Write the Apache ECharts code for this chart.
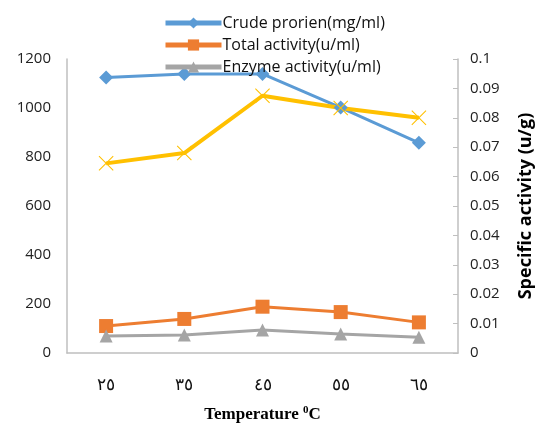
<!DOCTYPE html>
<html lang="en">
<head>
    <meta charset="UTF-8">
    <title>Temperature</title>
    <script src="https://cdn.jsdelivr.net/npm/echarts@6/dist/echarts.min.js"></script>
    <style type="text/css">
        body{
            margin:0;
            background:#fff;
        }
    </style>
</head>
<body>
<div id="main" style="width: 538px;height:426px;"></div>
<script type="text/javascript">
    var temps = ['٢٥', '٣٥', '٤٥', '٥٥', '٦٥'];
    var crude = [1124, 1139, 1139, 1002, 858];
    var total = [110, 139, 189, 167, 125];
    var enzyme = [69, 73, 94, 78, 64];
    var specific = [0.0645, 0.068, 0.0875, 0.0833, 0.080];

    var crossPath = 'path://M0,1L1,0L10,9L19,0L20,1L11,10L20,19L19,20L10,11L1,20L0,19L9,10Z';
    var axisGray = '#BFBFBF';
    var labelFont = {color: '#222', fontSize: 15, fontFamily: 'Open Sans'};

    var myChart = echarts.init(document.getElementById('main'));
    var option = {
        animation: false,
        grid: {left: 67, right: 80, top: 59, bottom: 73, outerBoundsMode: 'none', containLabel: false},
        legend: {
            orient: 'vertical',
            left: 158,
            top: 10,
            itemWidth: 56,
            itemHeight: 14,
            itemGap: 6,
            lineStyle: {width: 5},
            data: ['Crude prorien(mg/ml)', 'Total activity(u/ml)', 'Enzyme activity(u/ml)'],
            textStyle: {fontSize: 16, color: '#111', fontFamily: 'Open Sans', padding: [0, 0, 0, -4]}
        },
        xAxis: {
            type: 'category',
            data: temps,
            boundaryGap: true,
            axisLine: {lineStyle: {color: axisGray, width: 1.5}},
            axisTick: {show: false},
            axisLabel: {color: '#111', fontSize: 17, fontFamily: 'DejaVu Serif', margin: 24},
            name: '{a|Temperature }{b|0}{a|C}',
            nameLocation: 'middle',
            nameGap: 52,
            nameTextStyle: {
                rich: {
                    a: {fontSize: 17, fontWeight: 'bold', fontFamily: 'Liberation Serif', color: '#000'},
                    b: {fontSize: 11, fontWeight: 'bold', fontFamily: 'Liberation Serif', color: '#000', verticalAlign: 'top', padding: [0, 0, 8, 0]}
                }
            }
        },
        yAxis: [
            {
                type: 'value',
                min: 0, max: 1200, interval: 200,
                axisLine: {show: true, lineStyle: {color: axisGray, width: 1.5}},
                axisTick: {show: false},
                splitLine: {show: false},
                axisLabel: Object.assign({margin: 16, formatter: function (v) { return String(v); }}, labelFont)
            },
            {
                type: 'value',
                min: 0, max: 0.1, interval: 0.01,
                position: 'right',
                axisLine: {show: true, lineStyle: {color: axisGray, width: 1.5}},
                axisTick: {show: true, inside: true, length: 5, lineStyle: {color: axisGray}},
                splitLine: {show: false},
                axisLabel: Object.assign({margin: 12, formatter: function (v) { return String(+v.toFixed(2)); }}, labelFont),
                name: 'Specific activity (u/g)',
                nameLocation: 'middle',
                nameRotate: 90,
                nameGap: 59,
                nameTextStyle: {fontSize: 18, fontWeight: 'bold', color: '#000', fontFamily: 'Open Sans'}
            }
        ],
        series: [
            {
                name: 'Crude prorien(mg/ml)',
                type: 'line',
                data: crude,
                symbol: 'diamond',
                symbolSize: 14,
                itemStyle: {color: '#5B9BD5'},
                lineStyle: {width: 3, color: '#5B9BD5'}
            },
            {
                name: 'Total activity(u/ml)',
                type: 'line',
                data: total,
                symbol: 'rect',
                symbolSize: 14,
                itemStyle: {color: '#ED7D31'},
                lineStyle: {width: 3, color: '#ED7D31'}
            },
            {
                name: 'Enzyme activity(u/ml)',
                type: 'line',
                data: enzyme,
                symbol: 'triangle',
                symbolSize: 13,
                itemStyle: {color: '#A5A5A5'},
                lineStyle: {width: 3, color: '#A5A5A5'}
            },
            {
                name: 'Specific activity',
                type: 'line',
                yAxisIndex: 1,
                data: specific,
                symbol: crossPath,
                symbolSize: 15,
                itemStyle: {color: '#FFC000'},
                lineStyle: {width: 4, color: '#FFC000'}
            }
        ]
    };
    myChart.setOption(option);
</script>
</body>
</html>
